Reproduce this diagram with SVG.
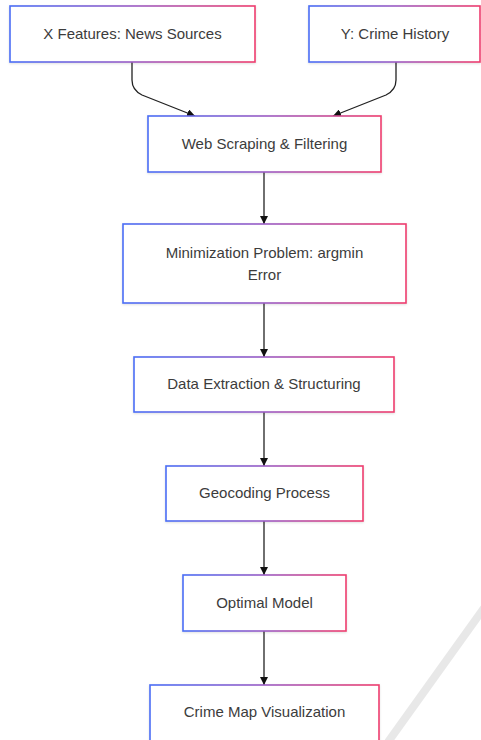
<svg xmlns="http://www.w3.org/2000/svg" width="481" height="740" viewBox="0 0 481 740">
<defs>
<linearGradient id="g" x1="0" y1="0" x2="1" y2="0">
<stop offset="0" stop-color="#4a6df5"/>
<stop offset="0.5" stop-color="#9a5cc4"/>
<stop offset="1" stop-color="#ee3d6e"/>
</linearGradient>
<filter id="sh" x="-5%" y="-10%" width="110%" height="130%">
<feDropShadow dx="0" dy="1" stdDeviation="1" flood-color="#000" flood-opacity="0.12"/>
</filter>
<marker id="ah" viewBox="0 0 10 10" refX="10" refY="5" markerWidth="8" markerHeight="8" markerUnits="userSpaceOnUse" orient="auto">
<path d="M0,0 L10,5 L0,10 z" fill="#111"/>
</marker>
</defs>
<style>
.box{fill:#fff;stroke:url(#g);stroke-width:1.6;filter:url(#sh)}
.t{font-family:"Liberation Sans",Arial,sans-serif;font-size:15px;fill:#3c3c3c;text-anchor:middle;dominant-baseline:central}
.e{fill:none;stroke:#222;stroke-width:1.3;marker-end:url(#ah)}
</style>
<rect width="481" height="740" fill="#fff"/>
<path d="M484,608 L388,742" stroke="#e8e8e8" stroke-width="8" fill="none"/>
<g id="edges">
<path class="e" d="M132,62 L132,80 Q132,90 142,95 L195,116"/>
<path class="e" d="M396,62 L396,80 Q396,90 386,95 L333,116"/>
<path class="e" d="M264,172 L264,224"/>
<path class="e" d="M264,303 L264,357"/>
<path class="e" d="M264,412 L264,466"/>
<path class="e" d="M264,521 L264,575"/>
<path class="e" d="M264,631 L264,685"/>
</g>
<g id="xfeatures"><rect class="box" x="10" y="6" width="245" height="56"/><text class="t" x="132.5" y="33">X Features: News Sources</text></g>
<g id="ycrime"><rect class="box" x="309" y="6" width="171" height="56"/><text class="t" x="395" y="33">Y: Crime History</text></g>
<g id="webscraping"><rect class="box" x="148" y="116" width="233" height="56"/><text class="t" x="264.5" y="143">Web Scraping &amp; Filtering</text></g>
<g id="minimization"><rect class="box" x="123" y="224" width="283" height="79"/><text class="t" x="264.5" y="252">Minimization Problem: argmin</text><text class="t" x="264.5" y="274">Error</text></g>
<g id="dataextraction"><rect class="box" x="134" y="357" width="260" height="55"/><text class="t" x="264" y="383.5">Data Extraction &amp; Structuring</text></g>
<g id="geocoding"><rect class="box" x="166" y="466" width="197" height="55"/><text class="t" x="264.5" y="492.5">Geocoding Process</text></g>
<g id="optimal"><rect class="box" x="183" y="575" width="163" height="56"/><text class="t" x="264.5" y="602">Optimal Model</text></g>
<g id="crimemap"><rect class="box" x="150" y="685" width="229" height="58"/><text class="t" x="264.5" y="711">Crime Map Visualization</text></g>
</svg>
